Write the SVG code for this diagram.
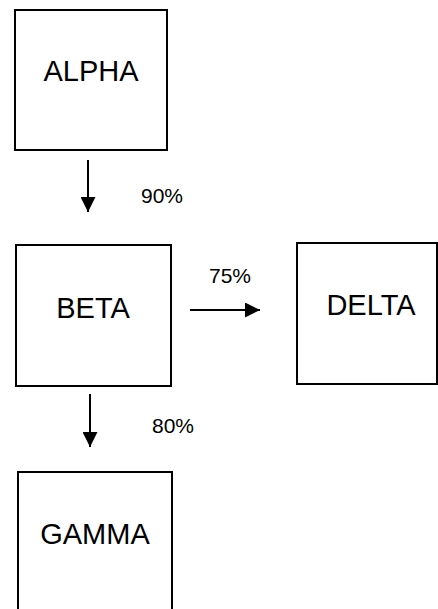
<svg xmlns="http://www.w3.org/2000/svg" width="438" height="609" viewBox="0 0 438 609">
<defs>
<style>
.box{fill:#fff;stroke:#000;stroke-width:2}
.lbl{font-family:"Liberation Sans",Arial,sans-serif;font-size:29px;fill:#000;text-anchor:middle}
.pct{font-family:"Liberation Sans",Arial,sans-serif;font-size:21px;fill:#000}
.edge{stroke:#000;stroke-width:2;fill:none}
</style>
<marker id="ah" viewBox="0 0 10 10" refX="10" refY="5" markerUnits="userSpaceOnUse" markerWidth="15" markerHeight="15" orient="auto">
<path d="M0,0 L10,5 L0,10 Z" fill="#000"/>
</marker>
</defs>
<rect width="438" height="609" fill="#fff"/>
<g id="alpha">
<rect class="box" x="15" y="10" width="152" height="140"/>
<text class="lbl" x="91" y="81">ALPHA</text>
</g>
<g id="beta">
<rect class="box" x="16" y="245" width="155" height="141"/>
<text class="lbl" x="93" y="318">BETA</text>
</g>
<g id="delta">
<rect class="box" x="297" y="243" width="140" height="141"/>
<text class="lbl" x="371" y="315">DELTA</text>
</g>
<g id="gamma">
<rect class="box" x="18" y="472" width="154" height="150"/>
<text class="lbl" x="95" y="544">GAMMA</text>
</g>
<g id="connectors">
<line class="edge" x1="88" y1="160" x2="88" y2="212" marker-end="url(#ah)"/>
<text class="pct" x="141" y="203">90%</text>
<line class="edge" x1="190" y1="310" x2="260" y2="310" marker-end="url(#ah)"/>
<text class="pct" x="209" y="283">75%</text>
<line class="edge" x1="90" y1="394" x2="90" y2="447" marker-end="url(#ah)"/>
<text class="pct" x="152" y="433">80%</text>
</g>
</svg>
